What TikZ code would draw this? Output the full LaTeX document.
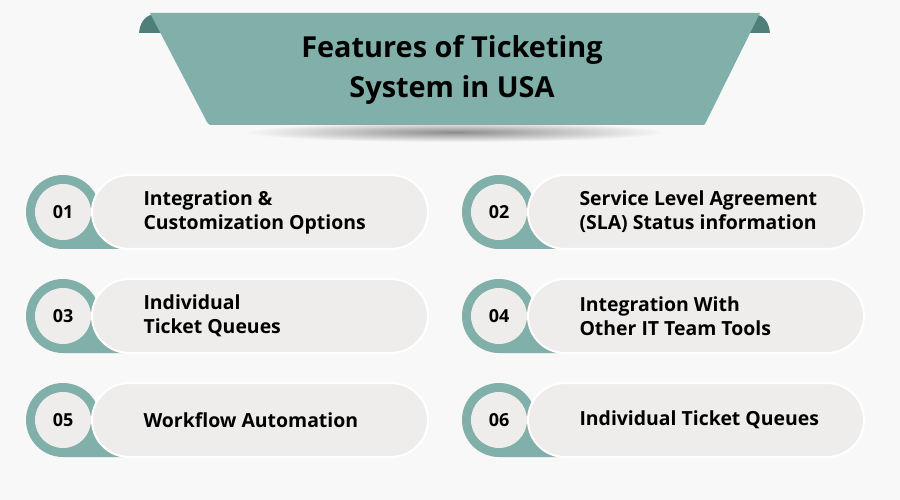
\documentclass[tikz,border=0pt]{standalone}
\usepackage{fontspec}
\setmainfont{Open Sans}
\usepackage{tikz}
\usetikzlibrary{positioning, shapes, calc}
\definecolor{tealbg}{HTML}{80B0A9}
\definecolor{tealdark}{HTML}{4F7F78}
\definecolor{pillgray}{HTML}{EEEDEC}
\definecolor{pagebg}{HTML}{F8F8F8}

\begin{document}
\begin{tikzpicture}[x=1bp, y=-1bp]
    \tikzset{
        pill/.style = {fill=pillgray, draw=white, line width=2bp, rounded corners=37bp},
        badge/.style = {circle, fill=pillgray, minimum size=56bp, inner sep=0pt, font=\bfseries\fontsize{18}{18}\selectfont},
        label/.style = {anchor=west, align=left, font=\bfseries\fontsize{19.5}{24}\selectfont},
        title/.style = {align=center, font=\bfseries\fontsize{29}{40}\selectfont}
    }
    \useasboundingbox[fill=pagebg] (0,0) rectangle (900,500);

    % banner
    \shade[inner color=black!45, outer color=pagebg] (455,132) ellipse (210 and 10);
    \fill[tealdark] (139,33) .. controls (141,8) and (168,8) .. (176,33) -- cycle;
    \fill[tealdark] (733,33) .. controls (741,8) and (768,8) .. (770,33) -- cycle;
    \fill[tealbg] (150,13) -- (760,13) -- (706,122) .. controls (705,125) .. (700,125)
        -- (214,125) .. controls (209,125) .. (207,122) -- cycle;
    \node[title] (heading) at (452,70) {Features of Ticketing\\System in USA};

    % cards
    \foreach \num/\dx/\cy/\txt in {01/0/212/{Integration \&\\Customization Options},
                                   02/436/212/{Service Level Agreement\\(SLA) Status information},
                                   03/0/316/{Individual\\Ticket Queues},
                                   04/436/316/{Integration With\\Other IT Team Tools},
                                   05/0/420/{Workflow Automation},
                                   06/436/420/{Individual Ticket Queues}} {
        \fill[tealbg] (63+\dx,\cy) circle (37);
        \fill[tealbg] (63+\dx,\cy+37) -- (63+\dx,\cy) -- (98+\dx,\cy)
            .. controls (100+\dx,\cy+25) and (110+\dx,\cy+37) .. (135+\dx,\cy+37) -- cycle;
        \path[pill] (92+\dx,\cy-37) rectangle (428+\dx,\cy+37);
        \node[badge] (badge\num) at (63+\dx,\cy) {\num};
        \node[label] (text\num) at (140+\dx,\cy) {\txt};
    }
\end{tikzpicture}
\end{document}
